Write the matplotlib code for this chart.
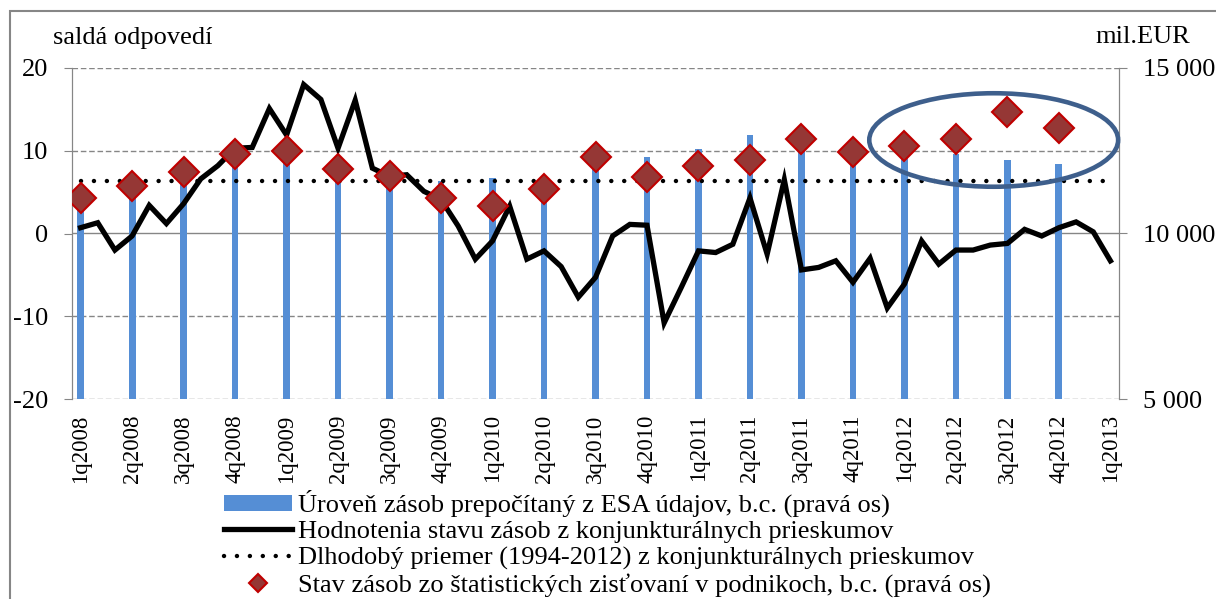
import matplotlib.pyplot as plt
from matplotlib.lines import Line2D
from matplotlib.patches import Ellipse, Patch, Rectangle
from matplotlib.ticker import FuncFormatter

# data
stvrtroky = ["1q2008", "2q2008", "3q2008", "4q2008", "1q2009", "2q2009", "3q2009",
             "4q2009", "1q2010", "2q2010", "3q2010", "4q2010", "1q2011", "2q2011",
             "3q2011", "4q2011", "1q2012", "2q2012", "3q2012", "4q2012", "1q2013"]

# mesacne saldo odpovedi (jan 2008 - jan 2013)
hodnotenia = [0.7, 1.3, -2.0, -0.3, 3.4, 1.2, 3.6, 6.6, 8.2, 10.3,
              10.4, 15.1, 11.9, 18.0, 16.2, 10.3, 16.1, 7.9, 6.9, 7.1,
              5.1, 4.1, 0.9, -3.1, -0.9, 3.3, -3.1, -2.1, -4.0, -7.7,
              -5.3, -0.3, 1.1, 1.0, -10.8, -6.5, -2.1, -2.3, -1.3, 4.3,
              -2.5, 6.5, -4.4, -4.1, -3.3, -5.9, -3.0, -9.0, -6.1, -0.9,
              -3.7, -2.0, -2.0, -1.4, -1.2, 0.5, -0.3, 0.7, 1.4, 0.2,
              -3.3]
dlhodoby_priemer = 6.4

# mil. EUR, 1q2008 - 4q2012
esa_zasoby = [11000, 11300, 11700, 12300, 12400, 11800, 11700, 11580, 11680, 11300,
              12250, 12320, 12540, 12990, 12700, 12400, 12500, 12390, 12210, 12110]
stat_zasoby = [11080, 11450, 11850, 12390, 12490, 11950, 11750, 11080, 10830, 11350,
               12300, 11710, 12030, 12210, 12860, 12450, 12640, 12860, 13680, 13190]

mesiace = list(range(len(hodnotenia)))
q_pozicie = [3 * i for i in range(len(stvrtroky))]
q_data = q_pozicie[:len(esa_zasoby)]

plt.rcParams["font.family"] = ["Liberation Serif", "DejaVu Serif"]
plt.rcParams["font.size"] = 19
plt.rcParams["axes.unicode_minus"] = False

fig = plt.figure(figsize=(12.16, 5.99), dpi=100)
seda = "#868686"
bodky = (0, (0.01, 2.9))

ax_l = fig.add_axes([72 / 1216, 1 - 399 / 599, (1119 - 72) / 1216, (399 - 68) / 599])
ax_r = ax_l.twinx()
ax_top = ax_l.twinx()
ax_r.set_zorder(1)
ax_l.set_zorder(2)
ax_top.set_zorder(3)
ax_l.patch.set_visible(False)
ax_top.patch.set_visible(False)

# stlpce a mriezka na pravej osi
ax_r.bar(q_data, esa_zasoby, width=0.4, bottom=0, color="#558ED5", zorder=3)
ax_r.set_ylim(5000, 15000)
ax_r.set_yticks([5000, 10000, 15000])
ax_r.set_yticks([7500, 12500], minor=True)
ax_r.yaxis.set_major_formatter(FuncFormatter(lambda v, p: f"{int(v):,}".replace(",", " ")))
ax_r.grid(True, axis="y", which="both", color=seda, linestyle=(0, (4, 2)), linewidth=1, zorder=0)
ax_r.yaxis.get_gridlines()[1].set_linestyle("-")
ax_r.tick_params(axis="y", which="major", direction="out", length=6, color=seda, pad=11)
ax_r.tick_params(axis="y", which="minor", length=0)

# ciary na lavej osi
ax_l.plot(mesiace, hodnotenia, color="black", linewidth=3.8, solid_joinstyle="miter", zorder=3)
ax_l.plot(mesiace, [dlhodoby_priemer] * len(mesiace), color="black", linewidth=3.2,
          linestyle=bodky, dash_capstyle="round", zorder=2)
ax_l.set_ylim(-20, 20)
ax_l.set_yticks([-20, -10, 0, 10, 20])
ax_l.tick_params(axis="y", direction="out", length=6, color=seda, pad=11)
ax_l.set_xlim(-0.5, 60.5)
ax_l.set_xticks(q_pozicie)
ax_l.set_xticklabels(stvrtroky, rotation=90, va="top", ha="center", fontsize=16.5)
ax_l.tick_params(axis="x", length=0, pad=11)

# body zo statistickych zistovani
ax_top.plot(q_data, stat_zasoby, linestyle="none", marker="D", markersize=15,
            markerfacecolor="#953735", markeredgecolor="#C00000", markeredgewidth=1.5)
ax_top.set_ylim(5000, 15000)
ax_top.axis("off")
ax_top.add_patch(Ellipse((53.2, 12825), 14.5, 2825, fill=False, edgecolor="#3E5F8C",
                         linewidth=3.3, clip_on=False))

for a in (ax_l, ax_r, ax_top):
    a.spines["top"].set_visible(False)
    a.spines["bottom"].set_visible(False)
for a in (ax_l, ax_r):
    a.spines["left"].set_color(seda)
    a.spines["right"].set_color(seda)

fig.text(53 / 1216, 1 - 38 / 599, "saldá odpovedí", ha="left", va="center")
fig.text(1095 / 1216, 1 - 37 / 599, "mil.EUR", ha="left", va="center")

# ramik
fig.patches.append(Rectangle((10 / 1216, -0.5), 2, 1.5 - 10.5 / 599, fill=False,
                             edgecolor=seda, linewidth=1.5, transform=fig.transFigure))

handles = [
    Patch(facecolor="#558ED5", edgecolor="none"),
    Line2D([], [], color="black", linewidth=3.8),
    Line2D([], [], color="black", linewidth=3.2, linestyle=bodky, dash_capstyle="round"),
    Line2D([], [], linestyle="none", marker="D", markersize=9.5, markerfacecolor="#953735",
           markeredgecolor="#C00000", markeredgewidth=1.5),
]
labels = [
    "Úroveň zásob prepočítaný z ESA údajov, b.c. (pravá os)",
    "Hodnotenia stavu zásob z konjunkturálnych prieskumov",
    "Dlhodobý priemer (1994-2012) z konjunkturálnych prieskumov",
    "Stav zásob zo štatistických zisťovaní v podnikoch, b.c. (pravá os)",
]
fig.legend(handles, labels, loc="upper left", bbox_to_anchor=(224 / 1216, 1 - 490 / 599),
           frameon=False, handlelength=2.58, handleheight=0.55, handletextpad=0.23,
           labelspacing=0.13, borderpad=0, borderaxespad=0)

fig.savefig("out.png", dpi=100)
